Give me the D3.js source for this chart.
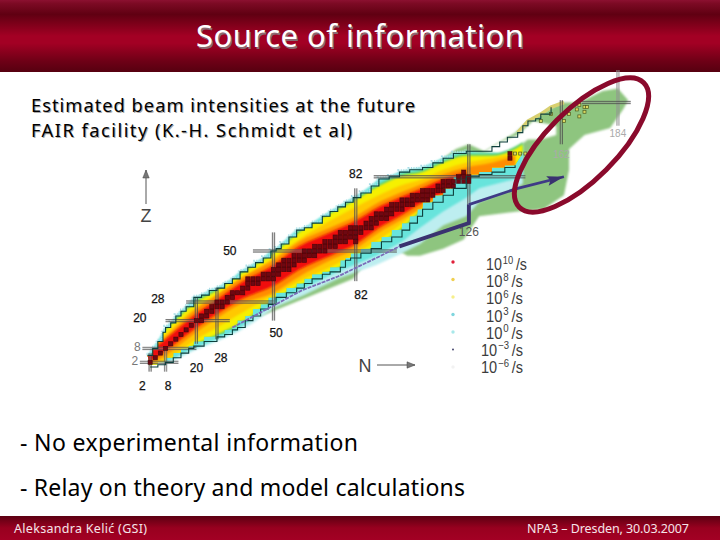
<!DOCTYPE html>
<html><head><meta charset="utf-8">
<style>html,body{margin:0;padding:0;background:#fff}svg{display:block}</style>
<script src="https://cdnjs.cloudflare.com/ajax/libs/d3/7.8.5/d3.min.js"></script>
</head><body><div id="c"></div>
<script>
// ---------- text ----------
const titleText = "Source of information";
const subtitleLines = ["Estimated beam intensities at the future", "FAIR facility (K.-H. Schmidt et al)"];
const bullets = ["- No experimental information", "- Relay on theory and model calculations"];
const footerLeft = "Aleksandra Kelić (GSI)";
const footerRight = "NPA3 – Dresden, 30.03.2007";

// ---------- nuclide chart data, [N, Z] ----------
const upperContour = [[1,5],[3,8],[5,11],[7,15],[8,17],[10,19],[12,22],[14,24],[16,26],[19,30],[22,31],[25,33],[28,34],[31,36],[34,38],[37,41],[40,43],[43,45],[46,47],[49,50],[51,51],[53,53],[56,56],[59,59],[62,60],[65,62],[69,65],[72,67],[75,69],[78,71],[81,73],[84,75],[88,78],[91,81],[95,82],[99,84],[103,85],[108,86],[112,88],[116,90],[120,92],[125,93],[132,93],[135,95],[138,97],[141,99],[145,101],[147,104],[149,106],[152,107],[154,109],[158,112]];
const lowerContour = [[2,0],[5,1],[8,2],[11,4],[14,6],[17,8],[19,9],[23,11],[28,13],[31,14],[34,16],[36,17],[39,20],[42,22],[45,25],[48,27],[51,30],[55,32],[59,34],[62,36],[65,38],[69,40],[72,41],[76,43],[78,46],[80,47],[84,49],[88,51],[92,54],[96,56],[100,59],[103,62],[106,65],[108,68],[112,71],[116,74],[120,77],[125,82],[130,83],[135,84],[140,86],[144,87]];
const coolTop = [[1,5],[3,8],[5,11],[7,15],[8,17],[10,19],[12,22],[14,24],[16,26],[19,30],[22,31],[25,33],[28,34],[31,36],[34,38],[37,41],[40,43],[43,45],[46,47],[49,50],[51,51],[53,53],[56,56],[59,59],[62,60],[65,62],[69,65],[72,67],[75,69],[78,71],[81,73],[84,75],[88,78],[91,81],[95,82],[99,84],[103,85],[108,86],[112,88],[116,90],[120,92],[125,93],[132,92],[144,94],[147,96]];
const paleLower = [[8,1],[19,7],[28,11],[36,15],[42,19],[51,26],[62,31],[75,38],[90,44],[100,49],[107,53],[116,61],[125,65],[130,71],[144,77],[147,79]];
const cyanLower = [[8,2],[19,8],[28,12],[36,16],[42,21],[51,28],[62,34],[75,41],[90,48],[100,54],[107,60],[116,67],[125,73],[130,77],[144,81],[147,82]];
const greenRegion = [[34,17],[63,30],[81,38],[86,45],[87,47],[99,50],[102,48],[107,48],[116,51],[124,55],[127,60],[130,65],[145,67],[155,68],[163,74],[165,85],[165,94],[171,100],[181,103],[186,111],[188,115],[184,120],[178,119],[169,114],[162,114],[154,109],[149,106],[144,101],[138,97],[132,93],[126,96],[121,94],[116,90]];
const whiteRegion = [[132,93],[138,97],[145,100],[151,106],[160,104],[160,100],[154,98],[149,98],[144,94],[138,92]];
const oliveStrip = [[145,101],[149,106],[154,109],[158,112],[163,114]];
// rows: N, lowest Z, highest Z of each intensity band
const yellowBand = [[0,0,8],[8,2,16],[20,10,28],[28,14,33],[37,19,40],[50,29,49],[60,35,58],[72,41,66],[82,47,72],[91,53,78],[99,59,82],[108,68,84],[116,74,88],[125,81,91],[135,84,91],[144,87,94],[147,90,96]];
const amberBand = [[0,0,6],[8,3,14],[20,12,26],[28,17,31],[37,23,38],[50,31,47],[60,37,55],[72,43,63],[82,49,69],[91,55,74],[99,61,78],[108,69,81],[116,75,85],[125,79,88],[135,85,90],[144,87,92]];
const orangeBand = [[0,0,6],[8,5,13],[20,15,25],[28,21,31],[37,27,38],[50,32,46],[60,39,54],[72,46,60],[82,51,65],[91,58,71],[99,63,75],[108,69,79],[116,74,83],[125,78,86],[135,83,88],[144,86,91]];
const redBand = [[0,1,5],[8,7,12],[20,17,23],[28,23,29],[37,29,36],[50,35,44],[60,42,52],[72,48,58],[82,53,63],[91,60,69],[99,65,73],[108,71,77],[116,75,81],[125,79,84]];
// even-even stable nuclides: N, lowest Z, highest Z
const stableRows = [[2,2,2],[4,4,4],[6,6,6],[8,8,8],[10,10,10],[12,12,12],[14,14,14],[16,16,16],[18,18,18],[20,20,20],[22,20,22],[24,22,24],[26,24,26],[28,26,28],[30,26,28],[32,28,30],[34,30,32],[36,32,32],[38,32,34],[40,34,38],[42,36,38],[44,36,38],[46,38,40],[48,38,40],[50,38,42],[52,40,44],[54,42,46],[56,42,46],[58,44,48],[60,46,48],[62,46,50],[64,48,50],[66,48,52],[68,50,52],[70,50,54],[72,52,54],[74,52,56],[76,54,58],[78,54,58],[80,56,60],[82,54,60],[84,58,60],[86,60,62],[88,60,64],[90,62,66],[92,64,66],[94,64,68],[96,66,70],[98,68,70],[100,68,72],[102,70,72],[104,70,74],[106,72,74],[108,72,76],[110,72,76],[112,74,76],[114,76,78],[116,76,80],[118,78,80],[120,78,80],[122,80,82],[124,80,84],[126,80,82],[142,90,92]];
const sparseSquares = [[144,92],[146,92],[148,92],[154,106],[158,109],[163,106],[165,109],[168,111],[169,113],[171,112],[172,112],[171,110],[169,108]];
// r-process path
const thinPath = [[34,17],[61,33],[75,39],[90,47],[99,52]];
const thickPath = [[99,52],[126,62],[126,70]];
const arrowPath = [[126,70],[145,77],[163,82]];
// magic numbers: value, from, to, line colour
const magicN = [[2,6,-2,"#333"],[8,8,-2,"#555"],[20,30,10,"#333"],[28,34,12,"#333"],[50,58,20,"#333"],[82,77,37,"#333"],[126,96,62,"#333"],[162,115,96,"#333"],[184,128,104,"#999"]];
const magicZ = [[2,-2,13,"#444"],[8,-1,20,"#444"],[20,8,33,"#333"],[28,16,50,"#333"],[50,42,98,"#333"],[82,89,148,"#333"],[114,170,189,"#333"]];
const magicLabels = [
  {t:"82",n:82,z:83,w:"#111",s:12},{t:"50",n:33,z:50,w:"#111",s:12},{t:"82",n:84,z:31,w:"#111",s:12},
  {t:"28",n:5,z:29.5,w:"#111",s:12},{t:"20",n:-2,z:21,w:"#111",s:12},{t:"50",n:51,z:14.5,w:"#111",s:12},
  {t:"20",n:20,z:-0.5,w:"#111",s:12},{t:"28",n:29.5,z:4,w:"#111",s:12},{t:"2",n:-1,z:-8,w:"#111",s:12},{t:"8",n:9,z:-8,w:"#111",s:12},
  {t:"8",n:-3,z:8.5,w:"#777",s:12},{t:"2",n:-4,z:2.5,w:"#777",s:12},
  {t:"126",n:126,z:58,w:"#555",s:12},{t:"162",n:162,z:92,w:"#aaa",s:10},{t:"184",n:184,z:101,w:"#aaa",s:10}
];
// legend
const legendExp = ["10","8","6","3","0","-3","-6"];
const legendColors = ["#e0203a","#f0cf50","#f6ef8a","#7fd6de","#a8e8ea","#33335f","#f2f2f2"];

// ---------- page ----------
const svg = d3.select("#c").append("svg").attr("width",720).attr("height",540).style("background","#fff");
const font = "'Comic Sans MS','Noto Sans',sans-serif";
const defs = svg.append("defs");

const x = d3.scaleLinear().domain([0,184]).range([145,617.9]);
const y = d3.scaleLinear().domain([0,114]).range([367,102.5]);

function grad(id, stops){
  const g = defs.append("linearGradient").attr("id",id).attr("x1",0).attr("x2",0).attr("y1",0).attr("y2",1);
  stops.forEach(s=>g.append("stop").attr("offset",s[0]).attr("stop-color",s[1]));
}
grad("hdr",[[0,"#8c1030"],[.05,"#7c0a24"],[.2,"#600012"],[.5,"#a30024"],[.6,"#a30024"],[.85,"#6e0016"],[1,"#560010"]]);
grad("ftr",[[0,"#5c0012"],[.5,"#98001f"],[1,"#a30024"]]);
[["b1",0.8],["b2",1.3]].forEach(f=>defs.append("filter").attr("id",f[0])
  .attr("x","-5%").attr("y","-5%").attr("width","110%").attr("height","110%")
  .append("feGaussianBlur").attr("stdDeviation",f[1]));

// bars
svg.append("rect").attr("x",0).attr("y",0).attr("width",720).attr("height",72).attr("fill","url(#hdr)");
svg.append("rect").attr("x",0).attr("y",516).attr("width",720).attr("height",24).attr("fill","url(#ftr)");

// title
function shadowText(g,t,px,py,size,len,col,shadow,off){
  if(shadow) g.append("text").attr("x",px+off).attr("y",py+off).attr("font-size",size).attr("font-family",font)
     .attr("fill",shadow).attr("textLength",len).attr("lengthAdjust","spacing").attr("aria-hidden","true").text(t);
  g.append("text").attr("x",px).attr("y",py).attr("font-size",size).attr("font-family",font)
     .attr("fill",col).attr("textLength",len).attr("lengthAdjust","spacing").text(t);
}
shadowText(svg,titleText,196,47,31,328,"#fff","#8a6a72",1.5);
shadowText(svg,subtitleLines[0],31,112,18.3,384,"#000","#aaa",1);
shadowText(svg,subtitleLines[1],31,137,18.3,321,"#000","#aaa",1);
shadowText(svg,bullets[0],20,451,23,338,"#000",null,0);
shadowText(svg,bullets[1],20,496,23,445,"#000",null,0);
shadowText(svg,footerLeft,14,533,12.5,133,"#f4e4e8",null,0);
shadowText(svg,footerRight,527,533,12.5,162,"#f4e4e8",null,0);

// chart
const pt = d=>[x(d[0]),y(d[1])];
const poly = d3.line().x(d=>x(d[0])).y(d=>y(d[1]));
const step = d3.line().x(d=>x(d[0])).y(d=>y(d[1])).curve(d3.curveStepAfter);
const band = d3.area().x(d=>x(d[0])).y0(d=>y(d[1])).y1(d=>y(d[2])).curve(d3.curveMonotoneX);
const ch = svg.append("g");

// green predicted region
ch.append("path").attr("d",poly(greenRegion)+"Z").attr("fill","#8ec57f").attr("filter","url(#b1)");

// olive strip along the top edge
ch.append("path").attr("d",poly(oliveStrip)).attr("fill","none").attr("stroke","#d8d070").attr("stroke-width",3.5);

// clip for the warm bands
defs.append("clipPath").attr("id","warm").append("path")
  .attr("d",step(upperContour)+"L"+step(lowerContour.slice().reverse()).slice(1)+"Z");

// pale and cyan skirts under the contour
ch.append("path").attr("d",poly(coolTop.concat(paleLower.slice().reverse()))+"Z").attr("fill","#bdeef0").attr("filter","url(#b1)");
ch.append("path").attr("d",poly(coolTop.concat(cyanLower.slice().reverse()))+"Z").attr("fill","#68e4dc").attr("filter","url(#b1)");

// white gap at the heavy end
ch.append("path").attr("d",poly(whiteRegion)+"Z").attr("fill","#fff").attr("filter","url(#b1)");

// fuzzy dotted rim above upper contour
ch.append("path").attr("d",step(upperContour.slice(0,42))).attr("fill","none").attr("stroke","#a8dce6")
  .attr("stroke-width",2.5).attr("stroke-dasharray","1 1.5").attr("transform","translate(-1,-1.5)");

// warm bands
const warm = ch.append("g").attr("clip-path","url(#warm)");
warm.append("path").datum(yellowBand).attr("d",d3.area().x(d=>x(d[0])).y0(d=>y(d[1]-1)).y1(d=>y(d[2]+1)).curve(d3.curveMonotoneX)).attr("fill","#58cf78").attr("filter","url(#b1)");
warm.append("path").datum(yellowBand).attr("d",band).attr("fill","#f6f000").attr("filter","url(#b1)");
warm.append("path").datum(amberBand).attr("d",band).attr("fill","#ffc800").attr("filter","url(#b2)");
warm.append("path").datum(orangeBand).attr("d",band).attr("fill","#ff8c00").attr("filter","url(#b2)");
warm.append("path").datum(redBand).attr("d",band).attr("fill","#f01008").attr("filter","url(#b1)");

// magic lines: doubled thin lines on a soft grey core
const mg = ch.append("g");
function dbl(a,b,ox,oy,col){
  mg.append("line").attr("x1",a[0]).attr("x2",b[0]).attr("y1",a[1]).attr("y2",b[1]).attr("stroke","#8d8d8d").attr("stroke-opacity",.4).attr("stroke-width",3.4);
  [-1,1].forEach(s=>mg.append("line").attr("x1",a[0]+s*ox).attr("x2",b[0]+s*ox).attr("y1",a[1]+s*oy).attr("y2",b[1]+s*oy)
    .attr("stroke",col).attr("stroke-opacity",.7).attr("stroke-width",.8));
}
magicN.forEach(m=>dbl(pt([m[0],m[1]]),pt([m[0],m[2]]),1.1,0,m[3]));
magicZ.forEach(m=>dbl(pt([m[1],m[0]]),pt([m[2],m[0]]),0,1.1,m[3]));

// stable squares
const stable = stableRows.flatMap(r=>d3.range(r[1],r[2]+1,2).map(z=>[r[0],z]));
ch.append("g").selectAll("rect").data(stable).join("rect")
  .attr("x",d=>x(d[0])-2.1).attr("y",d=>y(d[1])-2.1).attr("width",4.2).attr("height",4.2)
  .attr("fill","#6e0812").attr("stroke","#2e0408").attr("stroke-width",.7).attr("stroke-opacity",.7);
ch.append("g").selectAll("rect").data(sparseSquares).join("rect")
  .attr("x",d=>x(d[0])-1.5).attr("y",d=>y(d[1])-1.5).attr("width",3).attr("height",3)
  .attr("fill","#d8d860").attr("stroke","#4d5a20").attr("stroke-width",.7);

// contours
[upperContour,lowerContour].forEach(c=>ch.append("path").attr("d",step(c)).attr("fill","none").attr("stroke","#0e3f3c").attr("stroke-width",1.1));

// r-process path
ch.append("path").attr("d",poly(thinPath)).attr("fill","none").attr("stroke","#7a6cb8").attr("stroke-width",1.8).attr("stroke-dasharray","4 1");
ch.append("path").attr("d",poly(thickPath)).attr("fill","none").attr("stroke","#3a3270").attr("stroke-width",3.8);
ch.append("path").attr("d",poly(arrowPath)).attr("fill","none").attr("stroke","#3f3a86").attr("stroke-width",2.8);
const e = pt(arrowPath[arrowPath.length-1]), ang = 360-14.5;
ch.append("path").attr("d","M0,0L-17,-5L-14,0L-17,5Z").attr("fill","#3a3270").attr("transform",`translate(${e[0]},${e[1]}) rotate(${ang})`);

// magic labels
ch.append("g").selectAll("text").data(magicLabels).join("text")
  .attr("x",d=>x(d.n)).attr("y",d=>y(d.z)+4).attr("text-anchor","middle")
  .attr("font-family","'Liberation Sans',Arial,sans-serif").attr("font-size",d=>d.s).attr("fill",d=>d.w)
  .attr("stroke",d=>d.w==="#111"?"#111":"none").attr("stroke-width",.25).text(d=>d.t);

// axis arrows
function arrow(x1,y1,x2,y2){
  const a=Math.atan2(y2-y1,x2-x1)*180/Math.PI;
  svg.append("line").attr("x1",x1).attr("y1",y1).attr("x2",x2).attr("y2",y2).attr("stroke","#555").attr("stroke-width",1);
  svg.append("path").attr("d","M0,0L-8,-3.2L-8,3.2Z").attr("fill","#777").attr("stroke","#444").attr("stroke-width",.5).attr("transform",`translate(${x2},${y2}) rotate(${a})`);
}
arrow(146,204,146,170); arrow(377,365,415,365);
const lab = "'Liberation Sans',Arial,sans-serif";
svg.append("text").attr("x",146).attr("y",222).attr("text-anchor","middle").attr("font-family",lab).attr("font-size",18).attr("fill","#444").text("Z");
svg.append("text").attr("x",365).attr("y",372).attr("text-anchor","middle").attr("font-family",lab).attr("font-size",18).attr("fill","#444").text("N");

// legend
const ly = d3.scalePoint().domain(legendExp).range([262,367]);
const lb = d3.scalePoint().domain(legendExp).range([270,373]);
const lg = svg.append("g");
lg.selectAll("circle").data(legendExp).join("circle")
  .attr("cx",453).attr("cy",d=>ly(d)).attr("r",(d,i)=>i===5?.9:1.7).attr("fill",(d,i)=>legendColors[i]);
legendExp.forEach(ex=>{
  const neg=ex.startsWith("-"), two=ex.length===2;
  const x0=neg?481:486, x1=(!neg&&two)?527:523;
  const t=lg.append("text").attr("x",x0).attr("y",lb(ex)).attr("font-family",lab).attr("font-size",16)
    .attr("fill","#3c3c3c").attr("textLength",x1-x0).attr("lengthAdjust","spacingAndGlyphs");
  t.append("tspan").text("10");
  t.append("tspan").attr("font-size",10.5).attr("dy",-6.5).attr("dx",1).text(ex.replace("-","−"));
  t.append("tspan").attr("dy",6.5).attr("dx",3).text("/s");
});

// highlight ellipse
const ex = x.invert(581.5), ez = y.invert(145);
svg.append("ellipse").attr("cx",x(ex)).attr("cy",y(ez)).attr("rx",88).attr("ry",35)
  .attr("transform",`rotate(-45 ${x(ex)} ${y(ez)})`).attr("fill","none").attr("stroke","#8a0a2c").attr("stroke-width",5);
</script></body></html>
